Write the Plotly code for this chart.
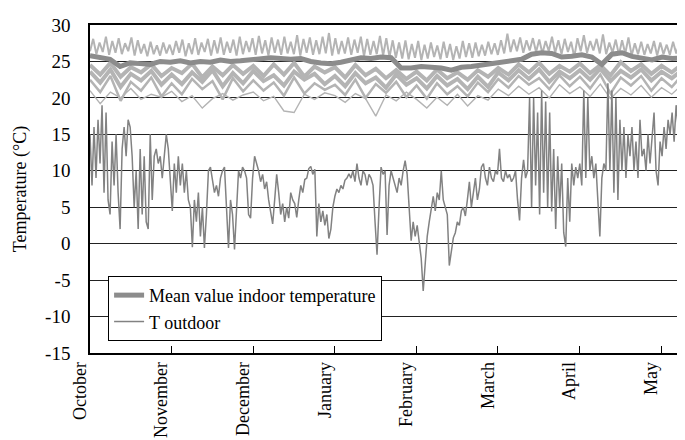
import numpy as np
import plotly.graph_objects as go

months = ['October', 'November', 'December', 'January', 'February', 'March', 'April', 'May']
y_ticks = [-15, -10, -5, 0, 5, 10, 15, 20, 25, 30]
x_end = 7.39  # right edge of the plot, in months after 1 October

# outdoor temperature (about 2 px per value)
t_outdoor = [
    15, 8, 16, 9, 17, 11, 19, 7, 18, 6,
    4, 14, 8, 15, 7, 2, 13, 16, 12, 17,
    16, 12, 5, 10, 2, 13, 4, 12, 3, 2,
    15, 6, 12, 13, 11, 12, 9, 12, 15, 13,
    8, 4.5, 11, 7, 12, 8, 11, 7, 10, 6,
    5, -0.5, 6, 3, 7, 1, 5, -0.6, 4, 10,
    10.5, 9, 7, 8, 6.5, 9, 10, 10.5, 4, -0.6,
    6, 4, -0.8, 5, 10, 9, 10.5, 10, 9, 4,
    3.5, 9, 12, 11, 10, 8.5, 9.5, 7.5, 8.5, 6,
    4, 2.7, 6, 9.5, 7, 4, 5.5, 3, 5, 3.5,
    7, 6, 5.5, 3.6, 6, 8, 7, 8.8, 9, 10.3,
    10.6, 9.5, 10.2, 1, 5.5, 3, 4.5, 2.5, 4, 0.7,
    2, 5, 6.5, 7.5, 7, 8, 7.5, 8.7, 9, 9.6,
    9, 10, 8.5, 11, 9, 8, 10, 9.5, 8, 9.5,
    9, 8, 3, -1.5, 5, 10.5, 9.5, 10, 1.2, 8,
    10, 9, 8, 7, 9, 8, 10, 11.4, 9.5, 5,
    0.4, 3, 1, 2.5, 0.5, -2, -6.5, -3, 1, 3,
    5, 6.5, 4.5, 7, 6, 10, 6, 5, 4, -3,
    -1, 0.8, 1.5, 3, 2.5, 4.5, 5, 3.8, 6, 8.5,
    5, 7, 9, 6, 7.5, 10.5, 11, 9, 8, 10.5,
    9, 8.5, 10, 9.5, 13, 9, 8.5, 10, 9, 9.5,
    8.5, 9, 10, 6, 3.2, 9, 11.5, 9, 10, 20,
    5, 20, 8, 18, 4, 21, 7, 19.5, 5, 18,
    4.4, 13, 2, 12, 5, 11, 1.5, -0.4, 9, 3,
    11, 8, 10.5, 9, 11, 8, 21, 9, 20, 10,
    12, 9, 11, 6, 1, 9, 11, 10, 22, 10,
    21, 7, 20, 6, 17, 10, 16, 9, 15, 12,
    16, 10, 14, 9, 17, 12, 13, 10, 15, 11,
    14, 18, 10, 8, 14, 12, 16, 13, 17, 15,
    18, 14, 19, 16, 20, 17, 19, 7.3, 15, 22.5, 16,
]

# mean indoor temperature (every ~10 px)
t_mean = [
    25.8, 25.6, 25.3, 24.3, 24.8, 24.7, 24.6, 25.0, 24.9, 25.1,
    24.8, 25.0, 24.9, 25.2, 25.0, 25.1, 25.2, 25.4, 25.5, 25.4,
    25.3, 25.4, 25.0, 24.8, 24.7, 24.9, 25.2, 25.5, 25.4, 25.6,
    25.5, 24.1, 24.1, 24.3, 24.2, 24.1, 23.8, 24.2, 24.3, 24.5,
    24.8, 25.0, 25.1, 25.3, 26.0, 26.2, 26.1, 25.6, 25.7, 25.9,
    25.6, 24.6, 26.0, 26.2, 25.7, 25.4, 25.2, 25.6, 25.4, 25.5, 25.4,
]

# individual indoor temperatures (light grey)
room_high = [
    26.4, 28.1, 26.0, 27.6, 26.3, 28.4, 25.9, 27.8, 26.2, 28.2, 26.0, 27.5, 26.4, 28.3, 25.8, 27.9, 26.1, 27.4, 25.7, 27.7,
    26.0, 27.2, 25.8, 27.6, 26.1, 27.3, 25.9, 27.8, 26.2, 28.0, 25.7, 27.5, 26.0, 28.2, 25.9, 27.6, 26.3, 28.1, 25.8, 27.9,
    26.1, 28.3, 25.9, 27.7, 26.2, 28.0, 25.8, 28.4, 26.0, 27.8, 26.3, 28.2, 25.9, 28.5, 26.1, 27.9, 25.8, 28.3, 26.2, 28.0,
    25.9, 28.4, 26.1, 27.7, 26.0, 28.6, 25.8, 28.1, 26.2, 28.3, 25.9, 27.9, 26.0, 28.4, 26.1, 28.9, 25.8, 28.2, 26.0, 27.8,
    26.1, 28.3, 25.9, 28.0, 26.2, 28.4, 25.7, 28.1, 25.9, 27.8, 26.0, 28.5, 25.8, 28.2, 25.6, 27.9, 25.5, 27.6, 25.4, 27.9,
    25.3, 27.4, 25.5, 27.8, 25.2, 27.3, 25.4, 27.6, 25.6, 27.2, 25.3, 27.7, 25.5, 27.4, 25.2, 27.1, 25.4, 27.8, 25.6, 27.5,
    25.5, 27.6, 25.7, 27.3, 25.8, 27.7, 26.0, 27.5, 25.9, 27.9, 26.1, 28.8, 26.3, 28.0, 26.4, 28.3, 26.2, 27.9, 26.5, 28.2,
    26.3, 28.0, 26.1, 27.8, 26.4, 28.4, 26.2, 27.9, 26.0, 28.1, 26.3, 27.7, 25.6, 28.2, 26.4, 28.6, 26.2, 27.8, 26.5, 28.1,
    26.1, 28.7, 26.0, 27.6, 26.2, 28.0, 25.9, 27.9, 26.1, 28.3, 25.8, 27.5, 26.0, 27.7, 25.9, 27.4, 26.1, 27.8, 25.8, 27.6,
    26.0, 27.3, 25.9, 27.7, 26.1, 27.5, 25.8, 27.2, 26.0, 27.6,
]
room_a = [
    24.5, 23.2, 24.8, 22.9, 24.2, 23.5, 24.6, 23.0,
    24.1, 23.4, 24.7, 22.8, 24.3, 23.1, 24.5, 23.3,
    24.4, 23.0, 24.6, 23.2, 24.8, 22.9, 24.3, 23.5,
    24.2, 22.8, 24.5, 23.1, 24.0, 22.7, 23.8, 22.6,
    23.6, 22.4, 23.9, 22.7, 23.5, 22.5, 23.8, 22.9,
    24.1, 23.2, 24.6, 23.5, 24.8, 23.3, 24.4, 23.6,
    24.7, 23.4, 24.5, 23.1, 24.9, 23.7, 24.6, 23.3,
    24.4, 23.5, 24.6, 23.4,
]
room_b = [
    23.6, 22.1, 23.9, 21.5, 23.3, 22.4, 23.7, 21.8,
    23.2, 21.9, 23.5, 22.2, 23.8, 21.6, 23.4, 22.0,
    23.7, 22.3, 23.1, 21.7, 23.6, 22.5, 23.3, 21.9,
    23.0, 21.6, 23.4, 22.0, 22.8, 21.4, 23.2, 21.8,
    22.7, 21.3, 23.0, 21.7, 22.6, 21.2, 22.9, 21.5,
    23.5, 22.4, 23.8, 22.6, 23.9, 22.2, 23.6, 22.7,
    23.8, 22.5, 24.0, 22.3, 23.7, 22.8, 23.9, 22.4,
    23.6, 22.7, 23.8, 22.5,
]
room_c = [
    22.5, 20.8, 23.0, 19.6, 22.2, 21.0, 22.8, 20.2,
    22.0, 20.5, 22.6, 21.2, 22.3, 19.8, 22.7, 20.9,
    22.4, 21.0, 22.1, 20.3, 22.8, 20.6, 22.0, 21.1,
    21.8, 20.4, 22.5, 20.0, 21.9, 20.7, 22.2, 20.1,
    21.7, 19.9, 22.0, 20.5, 21.6, 20.2, 22.1, 20.8,
    22.6, 21.4, 23.0, 21.8, 22.7, 21.2, 23.1, 21.6,
    22.9, 21.3, 23.2, 20.6, 22.8, 21.7, 23.0, 21.0,
    22.7, 21.5, 23.1, 21.9,
]
room_low = [
    21.0, 19.2, 20.8, 20.0, 21.3, 19.8, 20.5, 20.1,
    20.9, 19.5, 20.3, 18.6, 19.9, 20.6, 19.7, 20.4,
    20.8, 19.6, 20.2, 18.2, 18.0, 20.5, 19.8, 20.7,
    20.3, 19.4, 20.6, 19.9, 17.5, 20.4, 19.6, 20.8,
    19.8, 18.6, 20.1, 19.0, 20.5, 18.9, 20.3, 19.7,
    21.2, 20.3, 21.6, 20.5, 21.4, 20.0, 21.8, 20.6,
    21.5, 20.2, 21.9, 19.9, 21.3, 20.4, 21.7, 20.1,
    21.4, 20.5, 21.8, 20.9,
]

serif = 'Liberation Serif, Times New Roman, serif'
light = '#b4b4b4'


def xs(vals):
    # samples are evenly spread from 1 October to the right edge
    return np.linspace(0, x_end - 0.01, len(vals))


fig = go.Figure()
# (values, line width) for each light grey room curve
for r, w in [(room_low, 1.4), (room_c, 2.5), (room_b, 4), (room_a, 4), (room_high, 2)]:
    fig.add_trace(go.Scatter(x=xs(r), y=r, mode='lines', line=dict(color=light, width=w),
                             showlegend=False, hoverinfo='skip'))

fig.add_trace(go.Scatter(x=xs(t_mean), y=t_mean, mode='lines', name='Mean value indoor temperature',
                         line=dict(color='#8c8c8c', width=5)))
fig.add_trace(go.Scatter(x=xs(t_outdoor), y=t_outdoor, mode='lines', name='T outdoor',
                         line=dict(color='#828282', width=1.5)))

fig.update_layout(
    width=685, height=440,
    margin=dict(l=82, r=0, t=17, b=95),
    paper_bgcolor='white', plot_bgcolor='white',
    font=dict(family=serif, size=18, color='black'),
    legend=dict(x=0.03, y=0.235, xanchor='left', yanchor='top',
                bordercolor='black', borderwidth=1, bgcolor='white',
                font=dict(family=serif, size=18, color='black'), tracegroupgap=0),
)
fig.update_xaxes(range=[0, x_end], tickvals=list(range(len(months))), ticktext=months,
                 tickangle=-90, ticks='inside', ticklen=7, tickcolor='black',
                 ticklabelshift=-10,
                 showline=True, linecolor='black', linewidth=1.5, mirror=True,
                 showgrid=False, zeroline=False, tickfont=dict(family=serif, size=18, color='black'))
fig.update_yaxes(range=[-15, 30], tickvals=y_ticks, ticktext=[str(v) for v in y_ticks],
                 title=dict(text='Temperature (°C)', standoff=14, font=dict(family=serif, size=18)),
                 showline=True, linecolor='black', linewidth=1.5,
                 showgrid=True, gridcolor='#222222', gridwidth=1,
                 zeroline=False, ticks='', ticklabelstandoff=14,
                 tickfont=dict(family=serif, size=19, color='black'))

fig.write_html("out.html")
